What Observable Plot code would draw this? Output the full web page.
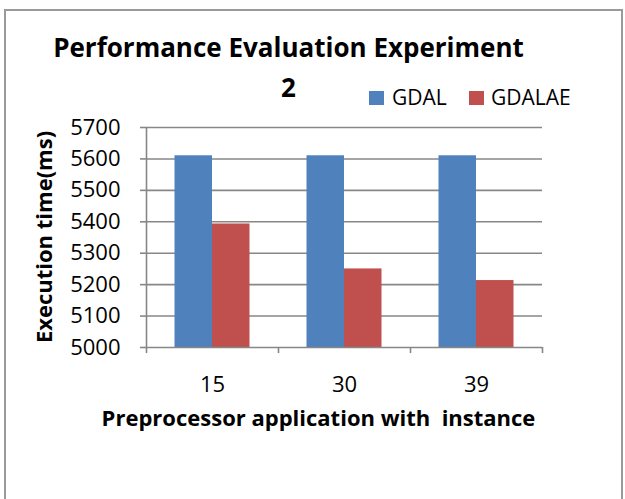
<!DOCTYPE html>
<html><head><meta charset="utf-8">
<script src="https://cdn.jsdelivr.net/npm/d3@7"></script>
<script src="https://cdn.jsdelivr.net/npm/@observablehq/plot@0.6"></script>
<style>
body{margin:0;background:#fff;font-family:"Open Sans",sans-serif;}
#wrap{position:relative;width:625px;height:499px;overflow:hidden;}
#frame{position:absolute;left:4px;top:9px;width:619px;height:520px;border:2px solid #9a9a9a;box-sizing:border-box;}
</style></head>
<body><div id="wrap"><div id="frame"></div></div>
<script>
const instances = ["15", "30", "39"];
const seriesNames = ["GDAL", "GDALAE"];
const gdal = [5610, 5610, 5610];
const gdalae = [5393, 5250, 5213];
const yTicks = [5000, 5100, 5200, 5300, 5400, 5500, 5600, 5700];
const colors = ["#4F81BD", "#C0504D"];
const title1 = "Performance Evaluation Experiment";
const title2 = "2";
const yLabel = "Execution time(ms)";
const xLabel = "Preprocessor application with  instance";

const rows = instances.flatMap((c, i) => [
  {instance: c, series: seriesNames[0], value: gdal[i]},
  {instance: c, series: seriesNames[1], value: gdalae[i]}
]);
const grey = "#878787";

const chart = Plot.plot({
  width: 625, height: 499,
  marginLeft: 146, marginRight: 83, marginTop: 127, marginBottom: 152,
  style: {fontFamily: "'Open Sans', sans-serif", background: "transparent", color: "#000"},
  x: {domain: instances, padding: 0, axis: null},
  y: {domain: [5000, 5700], axis: null},
  color: {domain: seriesNames, range: colors},
  marks: [
    Plot.gridY(yTicks.slice(1), {stroke: grey, strokeOpacity: 1, strokeWidth: 1.6}),
    Plot.barY(rows.filter(d => d.series === seriesNames[0]), {x: "instance", y1: 5000, y2: "value", fill: "series", insetLeft: 28.5, insetRight: 66}),
    Plot.barY(rows.filter(d => d.series === seriesNames[1]), {x: "instance", y1: 5000, y2: "value", fill: "series", insetLeft: 66, insetRight: 28.5}),
    Plot.axisY({ticks: yTicks, tickSize: 6, tickPadding: 20, fontSize: 22, label: null, tickFormat: d => String(d), stroke: grey, strokeWidth: 1.6, textStroke: "none"}),
    Plot.ruleX([instances[0]], {dx: -66, y1: 5000, y2: 5700, stroke: grey, strokeWidth: 1.6}),
    Plot.ruleY([5000], {stroke: grey, strokeWidth: 1.6}),
    Plot.axisX({tickSize: 6, text: null, label: null, dx: -66, stroke: grey, strokeWidth: 1.6}),
    Plot.axisX({ticks: [instances[instances.length - 1]], tickSize: 6, text: null, label: null, dx: 66, stroke: grey, strokeWidth: 1.6}),
    Plot.axisX({tickSize: 0, tickPadding: 29, fontSize: 22, label: null})
  ]
});
const wrap = document.getElementById("wrap");
chart.style.position = "absolute";
chart.style.left = "0px";
chart.style.top = "0px";
wrap.appendChild(chart);

const svg = d3.select(chart);
const g = svg.append("g").attr("font-family", "'Open Sans', sans-serif").attr("fill", "#000");
g.append("text").attr("x", 288.5).attr("y", 57).attr("text-anchor", "middle")
  .attr("font-size", 26).attr("font-weight", "bold").text(title1);
g.append("text").attr("x", 288.5).attr("y", 96.5).attr("text-anchor", "middle")
  .attr("font-size", 26).attr("font-weight", "bold").text(title2);
// legend
const sq = [369, 469], tx = [392, 491];
seriesNames.forEach((s, i) => {
  g.append("rect").attr("x", sq[i]).attr("y", 91).attr("width", 15).attr("height", 14).attr("fill", colors[i]);
  g.append("text").attr("x", tx[i]).attr("y", 105).attr("text-anchor", "start").attr("font-size", 21).text(s);
});
g.append("text").attr("x", 318.5).attr("y", 425.5).attr("text-anchor", "middle")
  .attr("font-size", 22).attr("font-weight", "bold").attr("xml:space", "preserve")
  .style("white-space", "pre").text(xLabel);
g.append("text").attr("transform", "translate(52,237) rotate(-90)").attr("text-anchor", "middle")
  .attr("font-size", 22).attr("font-weight", "bold").text(yLabel);
</script></body></html>
